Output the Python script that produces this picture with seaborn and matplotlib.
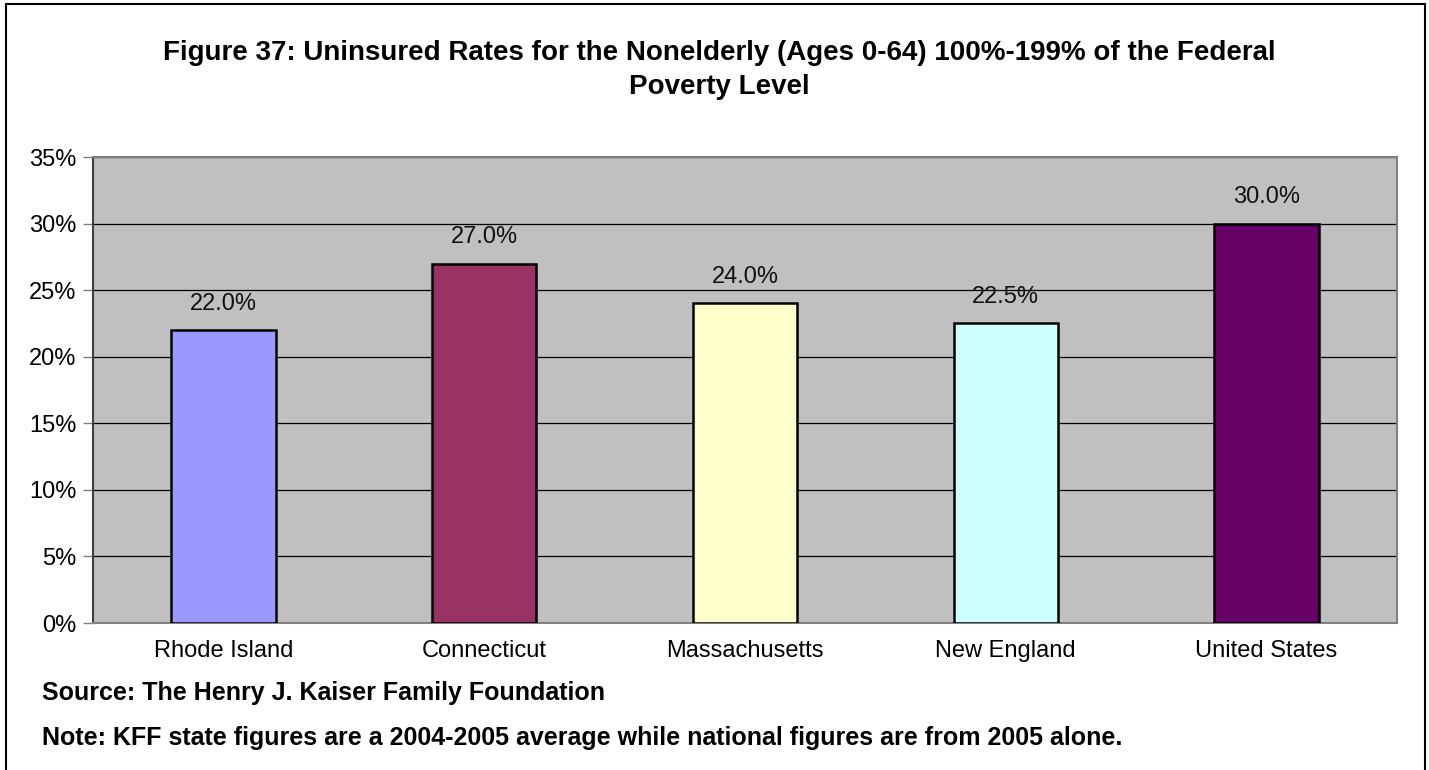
import matplotlib
matplotlib.use("Agg")
import matplotlib.pyplot as plt
from matplotlib.patches import Rectangle
import seaborn as sns
import pandas as pd

categories = ["Rhode Island", "Connecticut", "Massachusetts", "New England", "United States"]
rates = [22.0, 27.0, 24.0, 22.5, 30.0]
bar_colors = ["#9999FF", "#993366", "#FFFFCC", "#CCFFFF", "#660066"]
y_ticks = [0, 5, 10, 15, 20, 25, 30, 35]

title = ("Figure 37: Uninsured Rates for the Nonelderly (Ages 0-64) 100%-199% of the Federal\n"
         "Poverty Level")
source = "Source: The Henry J. Kaiser Family Foundation"
note = "Note: KFF state figures are a 2004-2005 average while national figures are from 2005 alone."

sns.set_theme(style="white")
plt.rcParams["font.family"] = ["Liberation Sans", "DejaVu Sans"]
plt.rcParams["text.color"] = "black"
plt.rcParams["xtick.color"] = "black"
plt.rcParams["ytick.color"] = "black"

W, H = 1429, 770
fig = plt.figure(figsize=(W / 100, H / 100), dpi=100)
ax = fig.add_axes([93 / W, 1 - 623 / H, (1397 - 93) / W, (623 - 157) / H])

df = pd.DataFrame({"Region": categories, "Rate": rates})
sns.barplot(data=df, x="Region", y="Rate", hue="Region", palette=bar_colors,
            order=categories, hue_order=categories, width=0.40, saturation=1,
            edgecolor="black", linewidth=1.8, legend=False, ax=ax, zorder=3)

ax.set_facecolor("#C0C0C0")
ax.set_ylim(0, 35)
ax.set_xlim(-0.5, len(categories) - 0.5)
ax.set_yticks(y_ticks)
ax.set_yticklabels([f"{t}%" for t in y_ticks], fontsize=17)
ax.yaxis.grid(True, color="black", linewidth=0.9, zorder=1)
ax.set_axisbelow(True)

# category labels at centres, tick marks at the boundaries between categories
ax.set_xticks([i - 0.5 for i in range(len(categories) + 1)])
ax.set_xticklabels([""] * (len(categories) + 1))
ax.set_xticks(range(len(categories)), minor=True)
ax.set_xticklabels(categories, minor=True, fontsize=17)
ax.tick_params(axis="x", which="minor", length=0, pad=12)
ax.tick_params(axis="x", which="major", length=7, width=1, color="#808080", direction="out")
ax.tick_params(axis="y", length=7, width=1, color="#808080", direction="out", pad=5,
               left=True)
ax.set_xlabel("")
ax.set_ylabel("")

for side in ["top", "right", "bottom"]:
    ax.spines[side].set_color("#808080")
    ax.spines[side].set_linewidth(1.5)
ax.spines["left"].set_color("#404040")
ax.spines["left"].set_linewidth(1.5)

for i, v in enumerate(rates):
    ax.annotate(f"{v:.1f}%", (i, v), xytext=(0, 19), textcoords="offset points",
                ha="center", va="center", fontsize=17, color="#111111")

fig.text(719 / W, 1 - 70 / H, title, ha="center", va="center", fontsize=20,
         fontweight="bold", linespacing=1.42)
fig.text(42 / W, 1 - 693 / H, source, ha="left", va="center", fontsize=18,
         fontweight="bold")
fig.text(42 / W, 1 - 738 / H, note, ha="left", va="center", fontsize=18,
         fontweight="bold")

# outer chart frame
fig.patches.append(Rectangle((6 / W, -0.01), (1425 - 6) / W, 1 - 4 / H + 0.01,
                             transform=fig.transFigure, fill=False,
                             edgecolor="black", linewidth=1.5))

fig.savefig("out.png", dpi=100)
